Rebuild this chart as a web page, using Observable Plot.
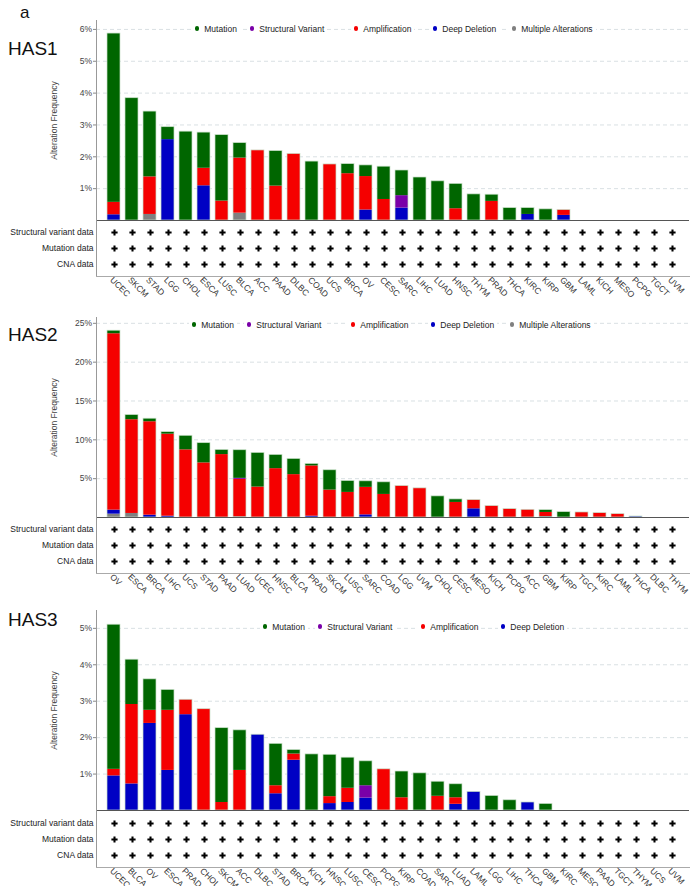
<!DOCTYPE html>
<html><head><meta charset="utf-8">
<script src="https://cdn.jsdelivr.net/npm/d3@7"></script>
<script src="https://cdn.jsdelivr.net/npm/@observablehq/plot@0.6"></script>
<style>
body{margin:0;background:#fff;font-family:"Liberation Sans",Arial,Helvetica,sans-serif;}
#page{position:relative;width:691px;height:886px;overflow:hidden;background:#fff;}
.abs{position:absolute;}
.title{position:absolute;font-size:19px;line-height:19px;color:#111;}
.leg{position:absolute;font-size:8.5px;line-height:10px;color:#222;background:#fff;padding:0 3px 0 0;white-space:nowrap;}
.leg i{display:inline-block;width:4.6px;height:4.6px;border-radius:50%;margin:0 5px 0 3px;vertical-align:1px;}
</style></head><body><div id="page"></div>
<script>
// ---------- shared ----------
const alterationTypes = ["Mutation","Structural Variant","Amplification","Deep Deletion","Multiple Alterations"];
const typeColors = ["#006600","#7a00a8","#f50000","#0000c4","#808080"];
const rowLabels = ["Structural variant data","Mutation data","CNA data"];

// ---------- HAS1 ----------
const has1Cancers = ["UCEC","SKCM","STAD","LGG","CHOL","ESCA","LUSC","BLCA","ACC","PAAD","DLBC","COAD","UCS","BRCA","OV","CESC","SARC","LIHC","LUAD","HNSC","THYM","PRAD","THCA","KIRC","KIRP","GBM","LAML","KICH","MESO","PCPG","TGCT","UVM"];
const has1Mutation = [5.30,3.84,2.05,0.39,2.79,1.12,2.07,0.47,0,1.10,0,1.85,0,0.30,0.35,1.03,0.79,1.35,1.23,0.78,0.82,0.21,0.39,0.20,0.35,0,0,0,0,0,0,0];
const has1StructVar = [0,0,0,0,0,0,0,0,0,0,0,0,0,0,0,0,0.39,0,0,0,0,0,0,0,0,0,0,0,0,0,0,0];
const has1Amp = [0.39,0,1.18,0,0,0.55,0.61,1.73,2.20,1.08,2.09,0,1.76,1.47,1.05,0.66,0,0,0,0.37,0,0.60,0,0,0,0.17,0,0,0,0,0,0];
const has1DeepDel = [0.18,0,0,2.54,0,1.09,0,0,0,0,0,0,0,0,0.33,0,0.39,0,0,0,0,0,0,0.19,0,0.16,0,0,0,0,0,0];
const has1Multiple = [0,0,0.19,0,0,0,0,0.23,0,0,0,0,0,0,0,0,0,0,0,0,0,0,0,0,0,0,0,0,0,0,0,0];
const has1Ticks = [1,2,3,4,5,6];

// ---------- HAS2 ----------
const has2Cancers = ["OV","ESCA","BRCA","LIHC","UCS","STAD","PAAD","LUAD","UCEC","HNSC","BLCA","PRAD","SKCM","LUSC","SARC","COAD","LGG","UVM","CHOL","CESC","MESO","KICH","PCPG","ACC","GBM","KIRP","TGCT","KIRC","LAML","THCA","DLBC","THYM"];
const has2Mutation = [0.39,0.60,0.39,0.26,1.81,2.54,0.60,3.62,4.40,1.77,2.02,0.26,2.55,1.47,0.78,1.56,0,0,2.72,0.39,0,0,0,0,0.30,0.69,0,0,0,0,0,0];
const has2StructVar = [0,0,0,0,0,0,0,0.13,0,0,0,0,0,0,0,0,0,0,0,0,0,0,0,0,0,0,0,0,0,0,0,0];
const has2Amp = [22.71,12.07,12.03,10.56,8.71,7.03,8.10,4.82,3.92,6.29,5.52,6.47,3.53,3.23,3.54,2.97,4.05,3.75,0,1.94,1.12,1.47,1.08,0.99,0.52,0,0.65,0.56,0.43,0,0,0];
const has2DeepDel = [0.52,0,0.30,0.17,0,0,0,0,0,0,0,0.17,0,0,0.34,0,0,0,0,0,1.12,0,0,0,0,0,0,0,0,0.13,0,0];
const has2Multiple = [0.43,0.52,0,0,0,0,0,0.09,0,0,0,0,0,0,0,0,0,0,0,0,0,0,0,0,0.13,0,0,0,0,0,0,0];
const has2Ticks = [5,10,15,20,25];

// ---------- HAS3 ----------
const has3Cancers = ["UCEC","BLCA","OV","ESCA","PRAD","CHOL","SKCM","ACC","DLBC","STAD","BRCA","KICH","HNSC","LUSC","CESC","PCPG","KIRP","COAD","SARC","LUAD","LAML","LGG","LIHC","THCA","GBM","KIRC","MESO","PAAD","TGCT","THYM","UCS","UVM"];
const has3Mutation = [3.97,1.23,0.85,0.56,0,0,2.04,1.10,0,1.15,0.11,1.54,1.15,0.84,0.67,0,0.72,1.02,0.40,0.37,0,0.40,0.28,0,0.18,0,0,0,0,0,0,0];
const has3StructVar = [0,0,0,0,0,0,0,0,0,0,0,0,0,0,0.34,0,0,0,0,0,0,0,0,0,0,0,0,0,0,0,0,0];
const has3Amp = [0.18,2.18,0.36,1.65,0.41,2.78,0.22,1.10,0,0.22,0.17,0,0.19,0.39,0,1.13,0.35,0,0.39,0.18,0,0,0,0,0,0,0,0,0,0,0,0];
const has3DeepDel = [0.95,0.73,2.39,1.10,2.63,0,0,0,2.08,0.46,1.38,0,0.19,0.22,0.34,0,0,0,0,0.17,0.51,0,0,0.22,0,0,0,0,0,0,0,0];
const has3Ticks = [1,2,3,4,5];

// ---------- layout (page positions of each panel) ----------
const FONT = "'Liberation Sans', Arial, Helvetica, sans-serif";
const panels = [
  {gene:"HAS1", cancers:has1Cancers, series:[has1Mutation,has1StructVar,has1Amp,has1DeepDel,has1Multiple], types:5,
   ticks:has1Ticks, yMax:6.28, barTop:0, rowTop:220, titleTop:39, legendY:24, legendX:[197,252,356,435,514]},
  {gene:"HAS2", cancers:has2Cancers, series:[has2Mutation,has2StructVar,has2Amp,has2DeepDel,has2Multiple], types:5,
   ticks:has2Ticks, yMax:25.75, barTop:297, rowTop:517, titleTop:325, legendY:320, legendX:[194,249,353,433,512]},
  {gene:"HAS3", cancers:has3Cancers, series:[has3Mutation,has3StructVar,has3Amp,has3DeepDel], types:4,
   ticks:has3Ticks, yMax:5.49, barTop:590, rowTop:811, titleTop:610, legendY:622, legendX:[265,320,423,503]}
];

const page = document.getElementById("page");
const lbl = document.createElement("div");
lbl.className = "title"; lbl.style.left = "20px"; lbl.style.top = "3px"; lbl.style.fontSize = "17px"; lbl.textContent = "a";
page.appendChild(lbl);

const colorScale = {domain: alterationTypes, range: typeColors};

for (const p of panels) {
  // long data, stacked bottom -> top in reverse legend order
  const long = [];
  const order = alterationTypes.slice(0, p.types).map((t, k) => k).reverse();
  p.cancers.forEach((c, i) => {
    for (const k of order) {
      const v = p.series[k][i];
      if (v > 0) long.push({cancer: c, type: alterationTypes[k], value: v});
    }
  });

  const bars = Plot.plot({
    width: 691, height: 221, marginTop: 20, marginBottom: 1, marginLeft: 96, marginRight: 2,
    style: {fontFamily: FONT, fontSize: "8.5px", background: "transparent", overflow: "visible"},
    x: {domain: p.cancers, padding: 0.27, axis: null},
    y: {domain: [0, p.yMax], axis: null},
    color: colorScale,
    marks: [
      Plot.gridY(p.ticks, {stroke: "#d9e0e3", strokeOpacity: 1, strokeDasharray: "4,3"}),
      Plot.barY(long, {x: "cancer", y: "value", fill: "type"}),
      Plot.barY(long, Plot.groupX({y: "sum"}, {x: "cancer", y: "value", fill: "none", stroke: "#c9e0c9", strokeWidth: 0.7})),
      Plot.ruleY([0], {stroke: "#555", strokeWidth: 1}),
      Plot.frame({anchor: "left", stroke: "#999"}),
      Plot.axisY(p.ticks, {tickFormat: d => d + "%", tickSize: 3, tickPadding: 1.5, stroke: "#888", fill: "#444",
        label: "Alteration Frequency", labelAnchor: "center", labelArrow: "none", labelOffset: 46})
    ]
  });
  bars.style.position = "absolute"; bars.style.left = "0px"; bars.style.top = p.barTop + "px";
  page.appendChild(bars);

  const cells = [];
  for (const r of rowLabels) for (const c of p.cancers) cells.push({cancer: c, row: r});

  const rows = Plot.plot({
    width: 691, height: 80, marginTop: 0, marginBottom: 24, marginLeft: 96, marginRight: 2,
    style: {fontFamily: FONT, fontSize: "8.5px", background: "transparent", overflow: "visible"},
    x: {domain: p.cancers, padding: 0.27},
    y: {type: "point", domain: rowLabels, padding: 0.75},
    marks: [
      Plot.dot(cells, {x: "cancer", y: "row", symbol: "cross", r: 2.6, fill: "#000", stroke: "none"}),
      Plot.frame({anchor: "left", stroke: "#999"}),
      Plot.frame({anchor: "bottom", stroke: "#aaa"}),
      Plot.axisY({tickSize: 0, tickPadding: 3, fill: "#222", label: null}),
      Plot.axisX({tickSize: 0, tickPadding: 2, tickRotate: 45, textAnchor: "start", fill: "#333", label: null, dx: -3})
    ]
  });
  rows.style.position = "absolute"; rows.style.left = "0px"; rows.style.top = p.rowTop + "px";
  page.appendChild(rows);

  const t = document.createElement("div");
  t.className = "title"; t.style.left = "8px"; t.style.top = p.titleTop + "px"; t.textContent = p.gene;
  page.appendChild(t);

  alterationTypes.slice(0, p.types).forEach((name, k) => {
    const d = document.createElement("div");
    d.className = "leg";
    d.style.left = (p.legendX[k] - 5.3) + "px";
    d.style.top = p.legendY + "px";
    d.innerHTML = `<i style="background:${typeColors[k]}"></i>${name}`;
    page.appendChild(d);
  });
}
</script></body></html>
